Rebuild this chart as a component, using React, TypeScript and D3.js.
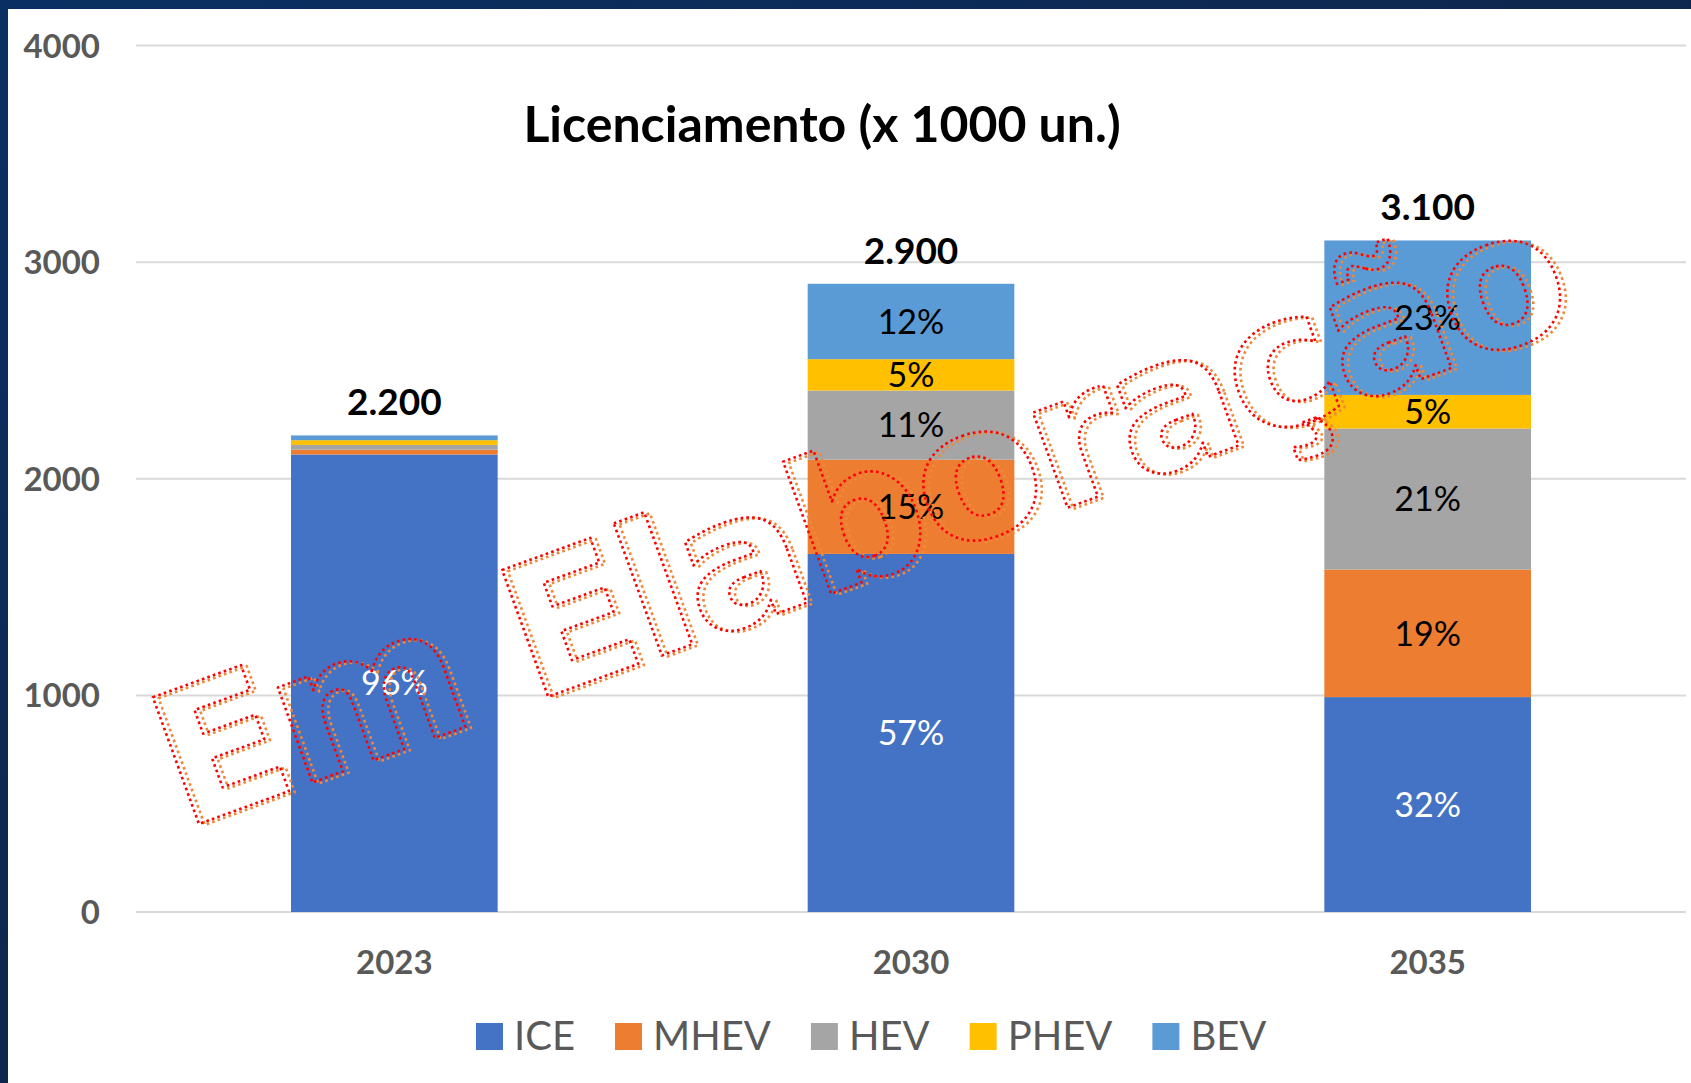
import React, { useEffect, useRef } from "react";
import * as d3 from "d3";

// chart data
const categories = ["2023", "2030", "2035"];
const seriesNames = ["ICE", "MHEV", "HEV", "PHEV", "BEV"];
const iceValues = [2112, 1653, 992];
const mhevValues = [22, 435, 589];
const hevValues = [22, 319, 651];
const phevValues = [22, 145, 155];
const bevValues = [22, 348, 713];
const yTicks = [0, 1000, 2000, 3000, 4000];

const colors = ["#4472C4", "#ED7D31", "#A5A5A5", "#FFC000", "#5B9BD5"];
const labelColors = ["#ffffff", "#000000", "#000000", "#000000", "#000000"];

const W = 1691;
const H = 1083;

export default function App() {
  const ref = useRef<SVGSVGElement>(null);

  useEffect(() => {
    document.body.style.margin = "0";
    const svg = d3.select(ref.current);
    svg.selectAll("*").remove();

    const rows = categories.map((c, i) => ({
      year: c,
      ICE: iceValues[i],
      MHEV: mhevValues[i],
      HEV: hevValues[i],
      PHEV: phevValues[i],
      BEV: bevValues[i],
    }));
    const totals = rows.map((r) => seriesNames.reduce((s, k) => s + r[k], 0));

    const x = d3.scaleBand().domain(categories).range([136, 1686]).paddingInner(0.6).paddingOuter(0.3);
    const y = d3.scaleLinear().domain([0, 4000]).range([912, 45.5]);
    const color = d3.scaleOrdinal<string, string>().domain(seriesNames).range(colors);
    const fmt = d3.formatLocale({ decimal: ",", thousands: ".", grouping: [3], currency: ["", ""] }).format(",");

    // frame
    const defs = svg.append("defs");
    const grad = defs.append("linearGradient").attr("id", "frame").attr("x1", 0).attr("y1", 0).attr("x2", 1).attr("y2", 1);
    grad.append("stop").attr("offset", 0).attr("stop-color", "#0a3063");
    grad.append("stop").attr("offset", 1).attr("stop-color", "#121d38");
    svg.append("rect").attr("width", W).attr("height", H).attr("fill", "url(#frame)");
    svg.append("rect").attr("x", 8).attr("y", 9).attr("width", W - 8).attr("height", H - 9).attr("fill", "#fff");

    // gridlines + y labels
    svg.append("g")
      .selectAll("line")
      .data(yTicks)
      .join("line")
      .attr("x1", 136)
      .attr("x2", 1686)
      .attr("y1", (d) => y(d))
      .attr("y2", (d) => y(d))
      .attr("stroke", "#d9d9d9")
      .attr("stroke-width", 2);

    svg.append("g")
      .selectAll("text")
      .data(yTicks)
      .join("text")
      .attr("x", 100)
      .attr("y", (d) => y(d) + 12)
      .attr("text-anchor", "end")
      .attr("font-family", "Lato")
      .attr("font-weight", "bold")
      .attr("font-size", 33)
      .attr("fill", "#595959")
      .text((d) => d);

    // stacked bars
    const stack = d3.stack<any>().keys(seriesNames)(rows);
    const layers = svg.append("g")
      .selectAll("g")
      .data(stack)
      .join("g")
      .attr("fill", (d) => color(d.key));
    layers.selectAll("rect")
      .data((d) => d)
      .join("rect")
      .attr("x", (d) => x(d.data.year)!)
      .attr("width", x.bandwidth())
      .attr("y", (d) => y(d[1]))
      .attr("height", (d) => y(d[0]) - y(d[1]));

    // percent labels (tiny 2023 slices carry none)
    stack.forEach((layer, li) => {
      svg.append("g")
        .selectAll("text")
        .data(layer.filter((d, i) => (d[1] - d[0]) / totals[i] >= 0.03))
        .join("text")
        .attr("x", (d) => x(d.data.year)! + x.bandwidth() / 2)
        .attr("y", (d) => (y(d[0]) + y(d[1])) / 2)
        .attr("dy", "0.36em")
        .attr("text-anchor", "middle")
        .attr("font-family", "Lato")
        .attr("font-size", 34)
        .attr("fill", labelColors[li])
        .text((d) => Math.round(((d[1] - d[0]) / totals[categories.indexOf(d.data.year)]) * 100) + "%");
    });

    // totals
    svg.append("g")
      .selectAll("text")
      .data(categories)
      .join("text")
      .attr("x", (d) => x(d)! + x.bandwidth() / 2)
      .attr("y", (d, i) => y(totals[i]) - 20)
      .attr("text-anchor", "middle")
      .attr("font-family", "Lato")
      .attr("font-weight", "bold")
      .attr("font-size", 37)
      .attr("fill", "#000")
      .text((d, i) => fmt(totals[i]));

    // x labels
    svg.append("g")
      .selectAll("text")
      .data(categories)
      .join("text")
      .attr("x", (d) => x(d)! + x.bandwidth() / 2)
      .attr("y", 974)
      .attr("text-anchor", "middle")
      .attr("font-family", "Lato")
      .attr("font-weight", "bold")
      .attr("font-size", 33)
      .attr("fill", "#595959")
      .text((d) => d);

    // title
    svg.append("text")
      .attr("x", 822)
      .attr("y", 142)
      .attr("text-anchor", "middle")
      .attr("font-family", "Lato")
      .attr("font-weight", "bold")
      .attr("font-size", 50)
      .attr("fill", "#000")
      .text("Licenciamento (x 1000 un.)");

    // legend, laid out from measured text widths
    const legend = svg.append("g");
    let lx = 476;
    seriesNames.forEach((name) => {
      legend.append("rect").attr("x", lx).attr("y", 1023).attr("width", 27).attr("height", 27).attr("fill", color(name));
      const t = legend.append("text")
        .attr("x", lx + 38)
        .attr("y", 1050)
        .attr("font-family", "Lato")
        .attr("font-size", 40)
        .attr("fill", "#595959")
        .text(name);
      const w = (t.node() as SVGTextElement).getComputedTextLength();
      lx += 38 + w + 40;
    });

    // "Em Elaboração" watermark
    const mark = svg.append("g").attr("transform", "translate(880,576) rotate(-20)");
    [
      { dx: 5, dy: 3, c: "#f0883a" },
      { dx: 0, dy: 0, c: "#ff0000" },
    ].forEach((s) => {
      mark.append("text")
        .attr("x", s.dx)
        .attr("y", s.dy)
        .attr("text-anchor", "middle")
        .attr("font-family", "DejaVu Sans")
        .attr("font-weight", "bold")
        .attr("font-size", 185)
        .attr("letter-spacing", -4)
        .attr("fill", "none")
        .attr("stroke", s.c)
        .attr("stroke-width", 2.6)
        .attr("stroke-dasharray", "2.6 3.2")
        .attr("stroke-linejoin", "round")
        .text("Em Elaboração");
    });
  }, []);

  return <svg ref={ref} width={W} height={H} style={{ display: "block" }} />;
}
